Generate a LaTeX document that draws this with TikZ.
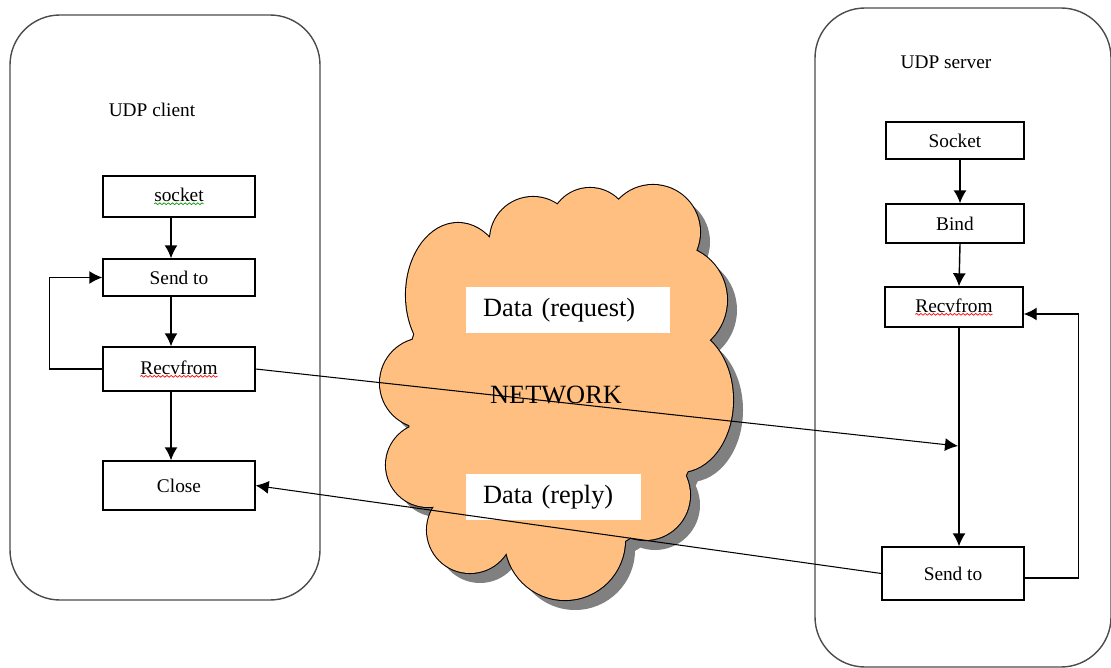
\documentclass[tikz,border=0pt]{standalone}
\usepackage{fontspec}
\setmainfont{Liberation Serif}
\usetikzlibrary{arrows.meta,decorations.pathmorphing}
\definecolor{cloudorange}{HTML}{FFBF80}
\tikzset{box/.style={draw, line width=0.8pt, inner sep=0pt, font=\fontsize{11}{13}\selectfont},
  flow/.style={line width=0.8pt, -{Latex[length=2.6mm,width=2.6mm]}},
  host/.style={draw=black!70, line width=0.8pt, rounded corners=1cm},
  data/.style={fill=white, inner xsep=3.4mm, align=left, minimum height=9.2mm, font=\fontsize{15}{18}\selectfont}}
\newcommand\squig[2]{\tikz[baseline=(w.base)]{\node[draw=none, inner sep=0pt, outer sep=0pt, minimum width=0pt, minimum height=0pt] (w) {#2};
  \draw[#1, line width=0.4pt, decorate, decoration={snake, amplitude=0.5pt, segment length=2.4pt}]
    ([yshift=-1.2pt]w.south west) -- ([yshift=-1.2pt]w.south east);}}
% puffs of the cloud: x/y/x radius/y radius
\def\puffs{556/390/150/170, 458/295/52/72, 533/240/43/43, 590/228/40/40, 653/232/47/47,
  672/300/55/55, 680/400/53/72, 645/495/45/45, 565/540/60/60, 470/530/43/43, 428/465/42/42, 425/383/45/45}

\begin{document}
\begin{tikzpicture}[x=0.02cm, y=-0.02cm]
  \clip (0,0) rectangle (1111,668);
  % hosts
  \draw[host] (10,15) rectangle (320,600);
  \draw[host] (815,8) rectangle (1111,667);
  \node[font=\fontsize{11}{13}\selectfont] (cl) at (152,110) {UDP client};
  \node[font=\fontsize{11}{13}\selectfont] (sv) at (946,62) {UDP server};
  % network
  \fill[black!50, shift={(10,10)}] \foreach \cx/\cy/\rx/\ry in \puffs {(\cx,\cy) ellipse [x radius=\rx, y radius=\ry]};
  \draw[line width=1.2pt] \foreach \cx/\cy/\rx/\ry in \puffs {(\cx,\cy) ellipse [x radius=\rx, y radius=\ry]};
  \fill[cloudorange] \foreach \cx/\cy/\rx/\ry in \puffs {(\cx,\cy) ellipse [x radius=\rx, y radius=\ry]};
  \node[font=\fontsize{15}{18}\selectfont] (n) at (556,395) {NETWORK};
  \node[data, text width=3.4cm] (q) at (568,310) {Data (request)};
  \node[data, text width=2.82cm] (r) at (553.5,497) {Data (reply)};
  % client
  \node[box, minimum width=3.04cm, minimum height=0.82cm] (a) at (179,196.5) {\squig{green!60!black}{socket}};
  \node[box, minimum width=3.04cm, minimum height=0.74cm] (b) at (179,277.5) {Send to};
  \node[box, minimum width=3.04cm, minimum height=0.88cm] (c) at (179,369) {\squig{red}{Recvfrom}};
  \node[box, minimum width=3.04cm, minimum height=0.98cm] (d) at (179,485.5) {Close};
  % server
  \node[box, minimum width=2.76cm, minimum height=0.74cm] (e) at (955,140.5) {Socket};
  \node[box, minimum width=2.76cm, minimum height=0.78cm] (f) at (955,223.5) {Bind};
  \node[box, minimum width=2.76cm, minimum height=0.80cm] (g) at (954,307) {\squig{red}{Recvfrom}};
  \node[box, minimum width=2.84cm, minimum height=1.06cm] (h) at (953,573.5) {Send to};
  \coordinate (t) at (958,446);
  % client flow
  \draw[flow] ([xshift=-1.6mm]a.south) -- ([xshift=-1.6mm]b.north);
  \draw[flow] ([xshift=-1.6mm]b.south) -- ([xshift=-1.6mm]c.north);
  \draw[flow] ([xshift=-1.6mm]c.south) -- ([xshift=-1.6mm]d.north);
  \draw[flow] (c.west) -- ++(-53,0) |- (b.west);
  % server flow
  \draw[flow] ([xshift=1mm]e.south) -- ([xshift=1mm]f.north);
  \draw[flow] ([xshift=1mm]f.south) -- ([xshift=1mm]g.north);
  \draw[flow] ([xshift=1mm]g.south) -- ([xshift=1mm]g.south |- h.north);
  \draw[flow] ([yshift=-0.9mm]h.east) -- ++(54,0) |- ([yshift=-1.4mm]g.east);
  % datagrams
  \draw[flow, line width=0.6pt] (c.east) -- (t);
  \draw[flow, line width=0.6pt] (h.west) -- (d.east);
\end{tikzpicture}
\end{document}
